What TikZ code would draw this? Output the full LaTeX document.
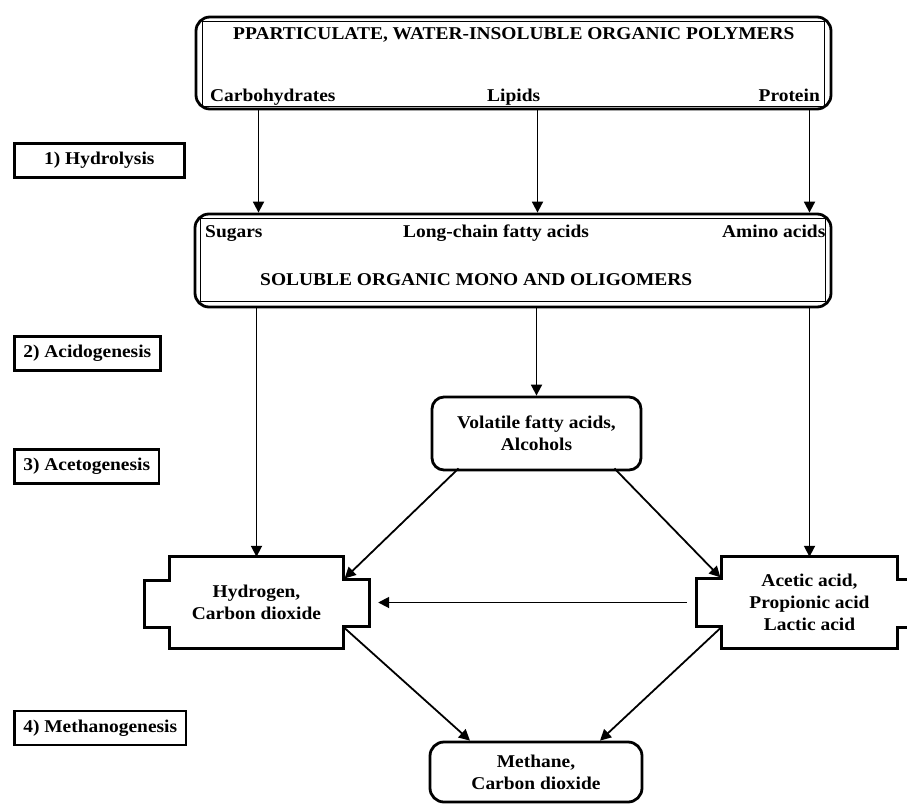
\documentclass[tikz,border=0pt]{standalone}
\usepackage{fontspec}
\setmainfont{Liberation Serif}[FakeStretch=1.08]
\usepackage{tikz}
\usetikzlibrary{shapes.geometric, arrows.meta}
\usetikzlibrary{positioning}
\usetikzlibrary{calc}
\tikzstyle{stage} = [rectangle, minimum height=34pt, inner xsep=9pt, text centered, draw=black, line width=2.6pt, anchor=west]
\tikzstyle{pool} = [rectangle, rounded corners=14pt, text centered, draw=black, line width=2.8pt]
\tikzstyle{inner} = [line width=1pt]
\tikzstyle{txt} = [inner sep=0pt]
\tikzstyle{crossbox} = [rectangle, inner sep=0pt, align=center]
\tikzstyle{outline} = [line width=2.8pt]
\tikzstyle{arrow} = [line width=1.8pt, -{Triangle[length=11pt,width=11pt]}]

\begin{document}
\begin{tikzpicture}[x=1pt, y=-1pt, font=\fontsize{18}{22}\selectfont\bfseries]
  \useasboundingbox (0,0) rectangle (907,803);

  % stages
  \node (hydrolysis) [stage, minimum width=170pt] at (13,160.5) {1) Hydrolysis};
  \node (acidogenesis) [stage] at (13,353.5) {2) Acidogenesis};
  \node (acetogenesis) [stage] at (13,466.5) {3) Acetogenesis};
  \node (methanogenesis) [stage] at (13,728) {4) Methanogenesis};

  % polymers
  \node (polymers) [pool, minimum width=635pt, minimum height=92pt] at (513.5,63) {};
  \draw[inner] ([shift={(8,6)}]polymers.north west) rectangle ([shift={(-8,-4)}]polymers.south east);
  \node (polymers-t) [txt, anchor=west] at (233,35) {PPARTICULATE, WATER-INSOLUBLE ORGANIC POLYMERS};
  \node (carbohydrates) [txt, anchor=base west] at (210,101) {Carbohydrates};
  \node (lipids) [txt, anchor=base west] at (487,101) {Lipids};
  \node (protein) [txt, anchor=base east] at (820,101) {Protein};

  % soluble
  \node (soluble) [pool, minimum width=636pt, minimum height=93pt] at (513,260.5) {};
  \draw[inner] ([shift={(7,6)}]soluble.north west) rectangle ([shift={(-7,-7)}]soluble.south east);
  \node (sugars) [txt, anchor=base west] at (205,237) {Sugars};
  \node (fattyacids) [txt, anchor=base west] at (403,237) {Long-chain fatty acids};
  \node (aminoacids) [txt, anchor=base west] at (722,237) {Amino acids};
  \node (soluble-t) [txt, anchor=base west] at (260,285) {SOLUBLE ORGANIC MONO AND OLIGOMERS};

  \draw[arrow] ([xshift=-255pt]polymers.south) -- ([xshift=-255pt]polymers.south |- soluble.north);
  \draw[arrow] ([xshift=24pt]polymers.south) -- ([xshift=24pt]polymers.south |- soluble.north);
  \draw[arrow] ([xshift=296pt]polymers.south) -- ([xshift=296pt]polymers.south |- soluble.north);

  % intermediates
  \node (vfa) [pool, rounded corners=12pt, minimum width=209pt, minimum height=73pt, align=center] at (536.5,433.5) {Volatile fatty acids,\\ Alcohols};

  \node (h2) [crossbox, minimum width=173pt, minimum height=91pt] at (256.5,602.5) {Hydrogen,\\ Carbon dioxide};
  \draw[outline] (h2.north west) -- (h2.north east) -- ++(0,23) coordinate (h2-ne) -- ++(26,0) -- ++(0,47)
    -- ++(-26,0) coordinate (h2-se) -- (h2.south east) -- (h2.south west) -- ++(0,-21) -- ++(-25,0)
    -- ++(0,-47) -- ++(25,0) -- cycle;

  \node (acids) [crossbox, minimum width=175pt, minimum height=91pt] at (809.5,602.5) {Acetic acid,\\ Propionic acid\\ Lactic acid};
  \draw[outline] (acids.north east) -- (acids.north west) -- ++(0,22) coordinate (ac-nw) -- ++(-25,0) -- ++(0,48)
    -- ++(25,0) coordinate (ac-sw) -- (acids.south west) -- (acids.south east) -- ++(0,-21) -- ++(25,0)
    -- ++(0,-48) -- ++(-25,0) -- cycle;

  \node (methane) [pool, minimum width=212pt, minimum height=60pt, align=center] at (536,772) {Methane,\\ Carbon dioxide};

  \draw[arrow] (h2.north |- soluble.south) -- (h2.north);
  \draw[arrow] (vfa.north |- soluble.south) -- (vfa.north);
  \draw[arrow] (acids.north |- soluble.south) -- (acids.north);

  \draw[arrow, shorten >=2pt] ([xshift=28pt,yshift=3pt]vfa.south west) -- (h2-ne);
  \draw[arrow, shorten >=2pt] ([xshift=-28pt,yshift=3pt]vfa.south east) -- (ac-nw);
  \draw[arrow] ([xshift=-35pt]acids.west) -- ([xshift=35pt]h2.east);

  \draw[arrow] (h2-se) -- ([xshift=-66pt]methane.north);
  \draw[arrow] (ac-sw) -- ([xshift=64pt]methane.north);

\end{tikzpicture}
\end{document}
